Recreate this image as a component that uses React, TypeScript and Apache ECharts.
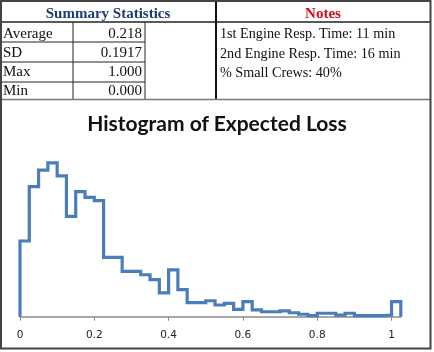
import React, { useEffect, useRef } from "react";
import * as echarts from "echarts";

const statLabels = ["Average", "SD", "Max", "Min"];
const statValues = ["0.218", "0.1917", "1.000", "0.000"];
const notes = [
  "1st Engine Resp. Time: 11 min",
  "2nd Engine Resp. Time: 16 min",
  "% Small Crews: 40%",
];
const title = "Histogram of Expected Loss";
const xTicks = [0, 0.2, 0.4, 0.6, 0.8, 1];

// bin starts (width 0.025)
const binStarts = [
  0, 0.025, 0.05, 0.075, 0.1, 0.125, 0.15, 0.175, 0.2, 0.225,
  0.25, 0.275, 0.3, 0.325, 0.35, 0.375, 0.4, 0.425, 0.45, 0.475,
  0.5, 0.525, 0.55, 0.575, 0.6, 0.625, 0.65, 0.675, 0.7, 0.725,
  0.75, 0.775, 0.8, 0.825, 0.85, 0.875, 0.9, 0.925, 0.95, 0.975,
  1.0,
];
const binEnd = 1.025;
// relative frequency (%)
const freq = [
  4.6, 7.9, 8.9, 9.35, 8.55, 6.1, 7.6, 7.25, 7.05, 3.6,
  3.6, 2.75, 2.75, 2.55, 2.25, 1.45, 2.85, 1.65, 0.85, 0.85,
  0.97, 0.71, 0.81, 0.45, 0.91, 0.41, 0.3, 0.3, 0.35, 0.24,
  0.15, 0.06, 0.21, 0.21, 0.1, 0.21, 0.06, 0.07, 0.07, 0.1,
  0.91,
];

export default function App() {
  const ref = useRef<HTMLDivElement>(null);
  useEffect(() => {
    if (!ref.current) return;
    const chart = echarts.init(ref.current, null, { renderer: "svg" });
    const data: number[][] = [[binStarts[0], 0]];
    binStarts.forEach((x, i) => data.push([x, freq[i]]));
    data.push([binEnd, 0]);

    const serif = "'Liberation Serif', 'Times New Roman', serif";
    const g: any[] = [];
    g.push({
      type: "rect",
      shape: { x: 0, y: 0, width: 434, height: 352 },
      style: { fill: "#ffffff" },
      z: -10,
    });
    const line = (x1: number, y1: number, x2: number, y2: number, color = "#111", w = 1) =>
      g.push({
        type: "line",
        shape: { x1, y1, x2, y2 },
        style: { stroke: color, lineWidth: w },
        z: 5,
      });
    line(0, 22, 431, 22, "#222", 1.5);
    [42, 62, 82].forEach((y) => line(0, y, 145, y, "#222", 1));
    line(73, 22, 73, 99, "#222", 1);
    line(145, 22, 145, 99, "#222", 1);
    line(216, 0, 216, 99, "#111", 2);
    line(0, 99.5, 431, 99.5, "#777", 1.5);
    g.push({
      type: "rect",
      shape: { x: 1, y: 1, width: 429.5, height: 347.5 },
      style: { fill: "none", stroke: "#444", lineWidth: 2 },
      z: 6,
    });
    g.push({
      type: "text",
      x: 108,
      y: 13,
      style: {
        text: "Summary Statistics",
        font: `bold 15px ${serif}`,
        fill: "#1F3B73",
        align: "center",
        verticalAlign: "middle",
      },
    });
    g.push({
      type: "text",
      x: 323,
      y: 13,
      style: {
        text: "Notes",
        font: `bold 15px ${serif}`,
        fill: "#D01020",
        align: "center",
        verticalAlign: "middle",
      },
    });
    const rowY = [32.5, 52, 71, 89.5];
    statLabels.forEach((t, i) => {
      g.push({
        type: "text",
        x: 3,
        y: rowY[i],
        style: { text: t, font: `15px ${serif}`, fill: "#111", align: "left", verticalAlign: "middle" },
      });
      g.push({
        type: "text",
        x: 142,
        y: rowY[i],
        style: { text: statValues[i], font: `15px ${serif}`, fill: "#111", align: "right", verticalAlign: "middle" },
      });
    });
    const noteY = [33, 53, 72];
    notes.forEach((t, i) =>
      g.push({
        type: "text",
        x: 220,
        y: noteY[i],
        style: { text: t, font: `14.2px ${serif}`, fill: "#111", align: "left", verticalAlign: "middle" },
      })
    );

    chart.setOption({
      animation: false,
      title: {
        text: title,
        left: "center",
        top: 107,
        textStyle: {
          fontFamily: "Lato, 'Liberation Sans', sans-serif",
          fontWeight: "bold",
          fontSize: 21,
          color: "#111",
        },
      },
      graphic: g,
      grid: { left: 20, right: 33.2, top: 152.1, bottom: 35.3 },
      xAxis: {
        type: "value",
        min: 0,
        max: binEnd,
        splitLine: { show: false },
        axisLine: { lineStyle: { color: "#8a8a8a", width: 1.5 } },
        axisTick: {
          show: true,
          length: 4,
          inside: false,
          customValues: xTicks,
          lineStyle: { color: "#8a8a8a" },
        },
        axisLabel: {
          customValues: xTicks,
          margin: 12,
          color: "#222",
          fontFamily: "'DejaVu Sans', sans-serif",
          fontSize: 10.5,
          formatter: (v: number) => String(Math.round(v * 10) / 10),
        },
      },
      yAxis: {
        type: "value",
        min: 0,
        max: 10,
        show: false,
      },
      series: [
        {
          type: "line",
          step: "end",
          data,
          showSymbol: false,
          symbol: "none",
          lineStyle: { color: "#4A7DBA", width: 3.2, join: "miter", cap: "butt" },
          z: 3,
        },
      ],
    });
    return () => chart.dispose();
  }, []);
  return (
    <div
      ref={ref}
      style={{ position: "fixed", left: 0, top: 0, width: 434, height: 352 }}
    />
  );
}
